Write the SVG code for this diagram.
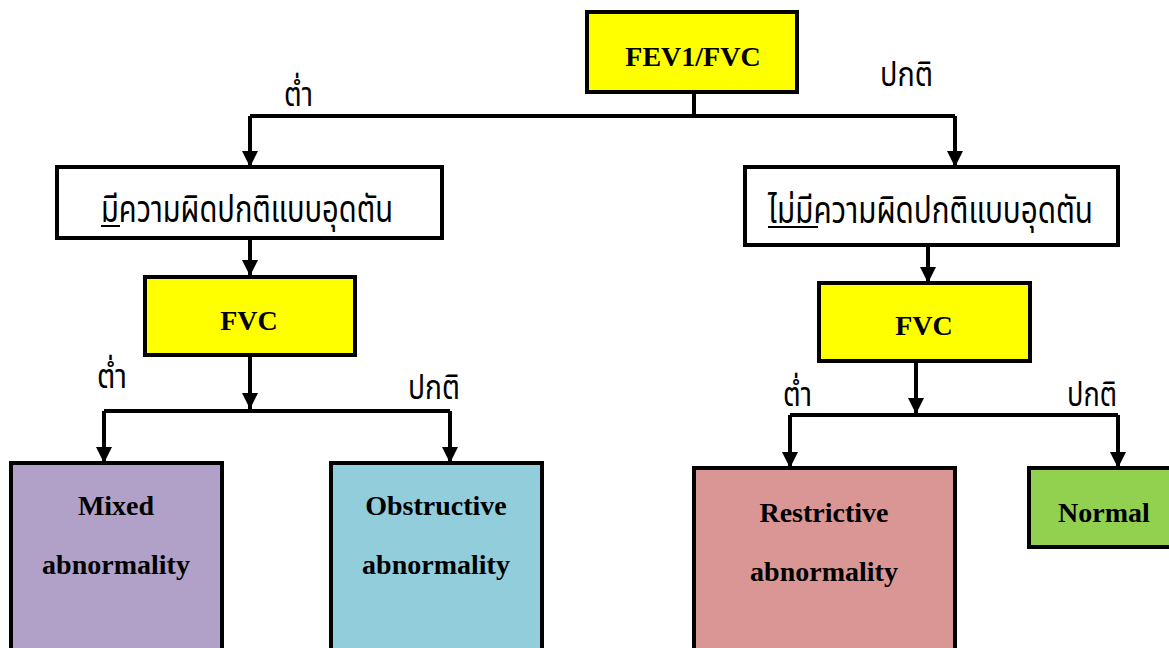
<svg xmlns="http://www.w3.org/2000/svg" width="1169" height="648" viewBox="0 0 1169 648">
<style>
.box{stroke:#000;stroke-width:4}
.en{font-family:"Liberation Serif","Times New Roman",serif;font-weight:bold;font-size:28px;fill:#000;text-anchor:middle}
.th{font-family:"Noto Sans Thai","Noto Sans","DejaVu Sans",sans-serif;font-size:38px;fill:#000}
.lbl{font-family:"Noto Sans Thai","Noto Sans","DejaVu Sans",sans-serif;font-size:33px;fill:#000}
.ln{stroke:#000;stroke-width:4;fill:none}
.ul{stroke:#000;stroke-width:2}
</style>
<defs>
<marker id="ah" markerUnits="userSpaceOnUse" markerWidth="16" markerHeight="16" refX="14" refY="7" orient="auto" viewBox="0 0 14 14">
<path d="M0,0 L14,7 L0,14 z" fill="#000"/>
</marker>
</defs>
<rect width="1169" height="648" fill="#fff"/>
<g id="connectors">
<path class="ln" d="M694,92 V116"/>
<path class="ln" d="M250,116 H955"/>
<path class="ln" d="M250,116 V167" marker-end="url(#ah)"/>
<path class="ln" d="M955,116 V167" marker-end="url(#ah)"/>
<path class="ln" d="M250,238 V276" marker-end="url(#ah)"/>
<path class="ln" d="M928,245 V283" marker-end="url(#ah)"/>
<path class="ln" d="M250,355 V409" marker-end="url(#ah)"/>
<path class="ln" d="M104,411 H450"/>
<path class="ln" d="M104,411 V463" marker-end="url(#ah)"/>
<path class="ln" d="M450,411 V463" marker-end="url(#ah)"/>
<path class="ln" d="M916,361 V414" marker-end="url(#ah)"/>
<path class="ln" d="M790,415 H1118"/>
<path class="ln" d="M790,415 V468" marker-end="url(#ah)"/>
<path class="ln" d="M1118,415 V468" marker-end="url(#ah)"/>
</g>
<g id="labels">
<text class="lbl" x="284" y="106" textLength="29" lengthAdjust="spacingAndGlyphs">ต่ำ</text>
<text class="lbl" x="880" y="86" textLength="53" lengthAdjust="spacingAndGlyphs">ปกติ</text>
<text class="lbl" x="97" y="388" textLength="30" lengthAdjust="spacingAndGlyphs">ต่ำ</text>
<text class="lbl" x="408" y="399" textLength="52" lengthAdjust="spacingAndGlyphs">ปกติ</text>
<text class="lbl" x="783" y="406" textLength="29" lengthAdjust="spacingAndGlyphs">ต่ำ</text>
<text class="lbl" x="1067" y="406" textLength="50" lengthAdjust="spacingAndGlyphs">ปกติ</text>
</g>
<g id="fev1fvc">
<rect class="box" x="587" y="12" width="210" height="80" fill="#ffff00"/>
<text class="en" x="693" y="66">FEV1/FVC</text>
</g>
<g id="obstructive-pattern">
<rect class="box" x="57" y="167" width="385" height="71" fill="#fff"/>
<text class="th" x="101" y="222" textLength="292" lengthAdjust="spacingAndGlyphs">มีความผิดปกติแบบอุดตัน</text>
<line class="ul" x1="101" y1="226" x2="120" y2="226"/>
</g>
<g id="no-obstructive-pattern">
<rect class="box" x="745" y="167" width="373" height="78" fill="#fff"/>
<text class="th" x="768" y="223" textLength="325" lengthAdjust="spacingAndGlyphs">ไม่มีความผิดปกติแบบอุดตัน</text>
<line class="ul" x1="768" y1="227" x2="818" y2="227"/>
</g>
<g id="fvc-left">
<rect class="box" x="145" y="277" width="210" height="78" fill="#ffff00"/>
<text class="en" x="249" y="330">FVC</text>
</g>
<g id="fvc-right">
<rect class="box" x="819" y="283" width="211" height="78" fill="#ffff00"/>
<text class="en" x="924" y="335">FVC</text>
</g>
<g id="mixed">
<rect class="box" x="11" y="463" width="211" height="200" fill="#b1a0c7"/>
<text class="en" x="116" y="515">Mixed</text>
<text class="en" x="116" y="574">abnormality</text>
</g>
<g id="obstructive">
<rect class="box" x="331" y="463" width="211" height="200" fill="#92cddc"/>
<text class="en" x="436" y="515">Obstructive</text>
<text class="en" x="436" y="574">abnormality</text>
</g>
<g id="restrictive">
<rect class="box" x="694" y="468" width="261" height="200" fill="#da9694"/>
<text class="en" x="824" y="522">Restrictive</text>
<text class="en" x="824" y="581">abnormality</text>
</g>
<g id="normal">
<rect class="box" x="1029" y="468" width="150" height="79" fill="#92d050"/>
<text class="en" x="1104" y="522">Normal</text>
</g>
</svg>
